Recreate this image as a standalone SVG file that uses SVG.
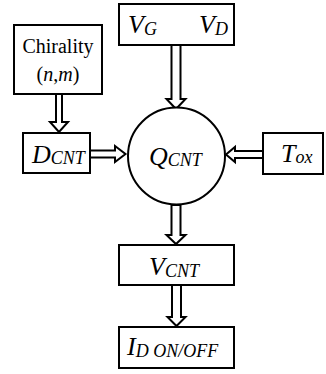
<svg xmlns="http://www.w3.org/2000/svg" width="326" height="374" viewBox="0 0 326 374">
<style>
.box{fill:#fff;stroke:#000;stroke-width:2}
.arr{fill:#fff;stroke:#000;stroke-width:2;stroke-linejoin:miter}
.t{font-family:"Liberation Serif","Times New Roman",serif;fill:#000}
.m{font-size:26px;font-style:italic}
.s{font-size:18px;font-style:italic}
.r{font-size:20px}
</style>
<rect width="326" height="374" fill="#fff"/>
<g id="connectors">
<polygon class="arr" points="56,94 62,94 62,122 68,122 59,132 50,122 56,122"/>
<polygon class="arr" points="90,150.5 115,150.5 115,146 125.5,154 115,162 115,157.5 90,157.5"/>
<polygon class="arr" points="171.5,45 180.5,45 180.5,99 185.5,99 176,109 166.5,99 171.5,99"/>
<polygon class="arr" points="263,151 235,151 235,147 226,154.5 235,162 235,158 263,158"/>
<polygon class="arr" points="171.5,205 180.5,205 180.5,235 185.5,235 176,244 166.5,235 171.5,235"/>
<polygon class="arr" points="172,285 181,285 181,317 185.5,317 176.5,326 167.5,317 172,317"/>
</g>
<g id="chirality">
<rect class="box" x="14" y="25" width="88" height="69"/>
<text class="t r" x="58" y="53" text-anchor="middle">Chirality</text>
<text class="t r" x="58" y="81" text-anchor="middle">(<tspan font-style="italic">n</tspan>,<tspan font-style="italic">m</tspan>)</text>
</g>
<g id="vgvd">
<rect class="box" x="119" y="4" width="115" height="41"/>
<text class="t m" x="128" y="33">V<tspan class="s" dy="2">G</tspan></text>
<text class="t m" x="199" y="33">V<tspan class="s" dy="2">D</tspan></text>
</g>
<g id="dcnt">
<rect class="box" x="23" y="133" width="67" height="40"/>
<text class="t m" x="32" y="163">D<tspan class="s" dy="1">CNT</tspan></text>
</g>
<g id="qcnt">
<circle class="box" cx="176.5" cy="156" r="48.5"/>
<text class="t m" x="149" y="165">Q<tspan class="s" dy="1">CNT</tspan></text>
</g>
<g id="tox">
<rect class="box" x="263" y="133" width="60" height="41"/>
<text class="t m" x="281" y="162">T<tspan class="s" dy="1">ox</tspan></text>
</g>
<g id="vcnt">
<rect class="box" x="119" y="245" width="115" height="40"/>
<text class="t m" x="149" y="275">V<tspan class="s" dy="2">CNT</tspan></text>
</g>
<g id="id">
<rect class="box" x="119" y="327" width="115" height="41"/>
<text class="t m" x="127" y="355">I<tspan class="s" dy="2">D ON/OFF</tspan></text>
</g>
</svg>
